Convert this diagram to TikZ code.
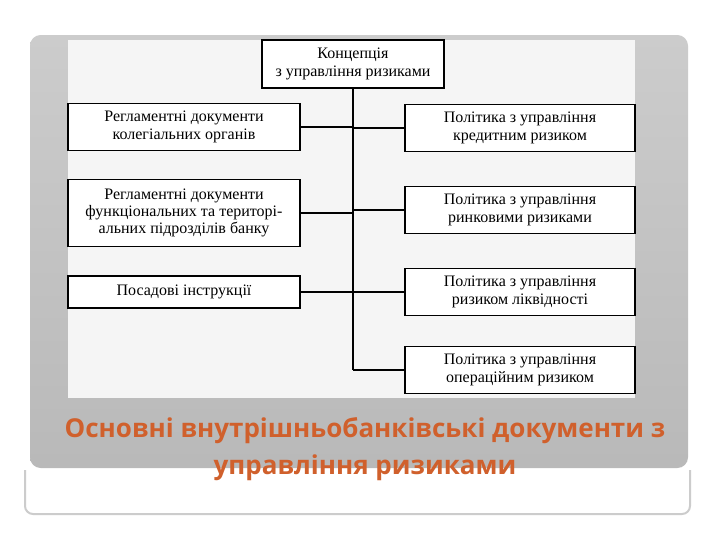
\documentclass[tikz,border=0pt]{standalone}
\usepackage{fontspec}
\setmainfont{Liberation Serif}
\newfontfamily\capfont{Open Sans}
\definecolor{capc}{HTML}{D0602C}
\begin{document}
\begin{tikzpicture}[x=0.75pt,y=-0.75pt,
  box/.style={draw=black,line width=1pt,fill=white,align=center,font=\fontsize{12}{13}\selectfont,inner sep=0pt},
  conn/.style={line width=0.9pt}]
\useasboundingbox (0,0) rectangle (720,540);
\fill[white] (0,0) rectangle (720,540);
\draw[gray!40,line width=1.5pt,rounded corners=6pt] (25,470) -- (25,514) -- (690,514) -- (690,470);
\shade[rounded corners=8pt,top color=gray!40,bottom color=gray!55] (30,35) rectangle (688,468);
\fill[gray!8] (68,40) rectangle (635,398);
\node[box,minimum width=182pt*0.75,minimum height=48pt*0.75] (k) at (353,64) {Концепція\\з управління ризиками};
\node[box,minimum width=232pt*0.75,minimum height=47pt*0.75] (l1) at (184,127) {Регламентні документи\\колегіальних органів};
\node[box,minimum width=232pt*0.75,minimum height=67pt*0.75] (l2) at (184,213) {Регламентні документи\\функціональних та територі-\\альних підрозділів банку};
\node[box,minimum width=232pt*0.75,minimum height=32pt*0.75] (l3) at (184,292) {Посадові інструкції};
\node[box,minimum width=230pt*0.75,minimum height=47pt*0.75] (r1) at (520,128) {Політика з управління\\кредитним ризиком};
\node[box,minimum width=230pt*0.75,minimum height=47pt*0.75] (r2) at (520,210) {Політика з управління\\ринковими ризиками};
\node[box,minimum width=230pt*0.75,minimum height=47pt*0.75] (r3) at (520,292) {Політика з управління\\ризиком ліквідності};
\node[box,minimum width=230pt*0.75,minimum height=47pt*0.75] (r4) at (520,370) {Політика з управління\\операційним ризиком};
\coordinate (t) at (k.south);
\coordinate (b) at (t |- r4.west);
\draw[conn] (t) -- (b);
\foreach \n in {l1,l2,l3} \draw[conn] (\n.east) -- (\n.east -| t);
\foreach \n in {r1,r2,r3,r4} \draw[conn] (\n.west) -- (\n.west -| t);
\node[text=capc,align=center,font=\capfont\bfseries\fontsize{19.5}{28}\selectfont] (cap) at (365,449) {Основні внутрішньобанківські документи з\\управління ризиками};
\end{tikzpicture}
\end{document}
